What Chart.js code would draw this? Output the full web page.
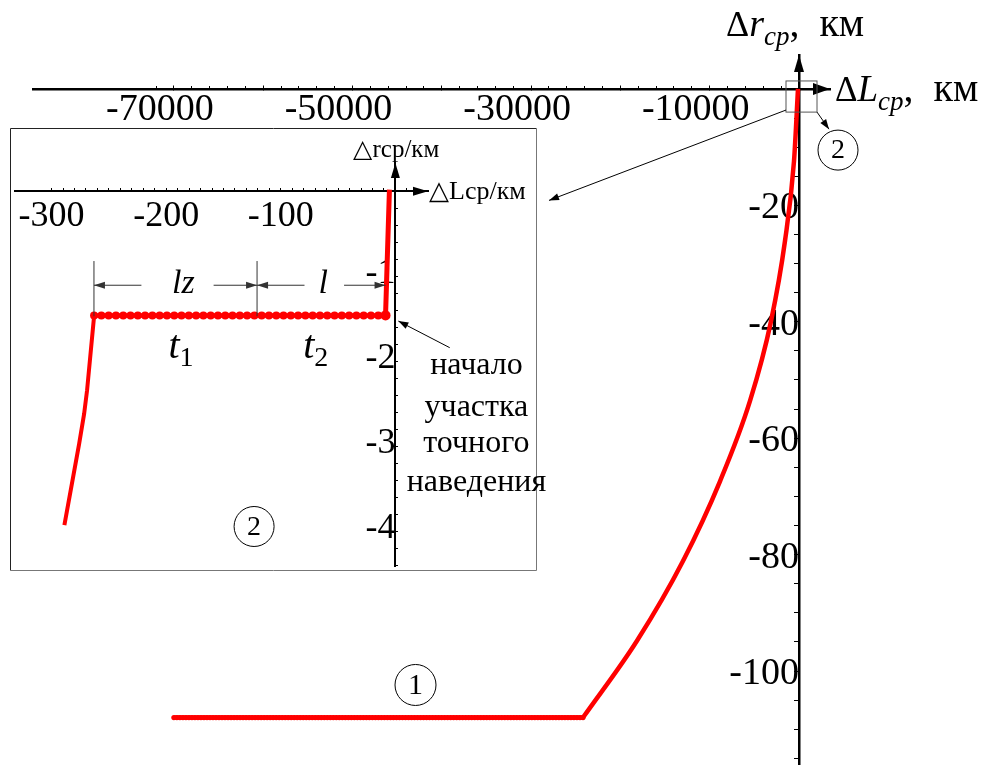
<!DOCTYPE html>
<html>
<head>
<meta charset="utf-8">
<script src="https://cdn.jsdelivr.net/npm/chart.js@4.4.1/dist/chart.umd.min.js"></script>
<style>
  html, body { margin: 0; padding: 0; background: #fff; }
  #wrap { position: relative; width: 988px; height: 765px; overflow: hidden; }
  #main { position: absolute; left: 0; top: 0; }
  #inset { position: absolute; left: 10px; top: 128px; }
</style>
</head>
<body>
<div id="wrap">
  <canvas id="main" width="988" height="765"></canvas>
  <canvas id="inset" width="560" height="443"></canvas>
</div>
<script>
// ---------------------------------------------------------------
// данные: полная траектория (км)
const flatL = [-70000, -24190];
const flatR = [-108, -108];
const climbL = [-24190, -18140, -12990, -8847, -5487, -3135, -1568, -560, -112];
const climbR = [-108, -94.8, -81.1, -67.4, -53.6, -39.9, -26.1, -12.4, 0];

// участок (2) крупно (км)
const approachL = [-288.8, -275.9, -271.6, -269, -262.9];
const approachR = [-3.93, -2.97, -2.62, -2.34, -1.47];
const holdL = [-262.9, -8.6];
const holdR = [-1.46, -1.46];
const finalL = [-8.6, -5.2];
const finalR = [-1.46, 0.02];

// подписи делений
const mainXLabels = [-70000, -50000, -30000, -10000];
const mainYLabels = [-20, -40, -60, -80, -100];
const zoomXLabels = [-300, -200, -100];
const zoomYLabels = [-1, -2, -3, -4];

// ---------------------------------------------------------------
const RED = '#ff0000';
const SERIF = "'Liberation Serif', 'Times New Roman', serif";

const pts = (xs, ys) => xs.map((x, i) => ({ x, y: ys[i] }));
const only = list => v => (list.includes(v) ? String(v) : '');
const noPad = s => { s.paddingLeft = s.paddingRight = s.paddingTop = s.paddingBottom = 0; };

// деления оси с постоянным шагом
function every(from, to, step) {
  return s => {
    const out = [];
    const n = Math.round((to - from) / step);
    for (let i = 0; i <= n; i++) out.push({ value: Math.round((from + i * step) * 1000) / 1000 });
    s.ticks = out;
  };
}

function head(ctx, x, y, ang, len, half) {
  ctx.save();
  ctx.translate(x, y);
  ctx.rotate(ang);
  ctx.beginPath();
  ctx.moveTo(0, 0);
  ctx.lineTo(-len, -half);
  ctx.lineTo(-len, half);
  ctx.closePath();
  ctx.fill();
  ctx.restore();
}

function arrow(ctx, x1, y1, x2, y2, len, half) {
  ctx.beginPath();
  ctx.moveTo(x1, y1);
  ctx.lineTo(x2, y2);
  ctx.stroke();
  head(ctx, x2, y2, Math.atan2(y2 - y1, x2 - x1), len, half);
}

function circled(ctx, x, y, r, txt, size) {
  ctx.beginPath();
  ctx.arc(x, y, r, 0, Math.PI * 2);
  ctx.stroke();
  ctx.font = size + 'px ' + SERIF;
  ctx.textAlign = 'center';
  ctx.textBaseline = 'middle';
  ctx.fillText(txt, x, y + 1);
}

// текст из кусков: [строка, шрифт, сдвиг по вертикали]
function rich(ctx, parts, x, y) {
  ctx.textAlign = 'left';
  ctx.textBaseline = 'alphabetic';
  for (const [s, font, dy] of parts) {
    ctx.font = font;
    ctx.fillText(s, x, y + (dy || 0));
    x += ctx.measureText(s).width;
  }
}

// "бусы" поверх отрезка - колебания на участке удержания
const beadLine = {
  id: 'beadLine',
  afterDatasetDraw(chart, args) {
    const ds = chart.data.datasets[args.index];
    if (!ds.beads) return;
    const p = args.meta.data;
    const ctx = chart.ctx;
    ctx.save();
    ctx.fillStyle = ds.borderColor;
    for (let i = 0; i < p.length - 1; i++) {
      const a = p[i], b = p[i + 1];
      const n = Math.round(Math.hypot(b.x - a.x, b.y - a.y) / ds.beads.step);
      for (let k = 0; k <= n; k++) {
        ctx.beginPath();
        ctx.arc(a.x + (b.x - a.x) * k / n, a.y + (b.y - a.y) * k / n, ds.beads.r, 0, Math.PI * 2);
        ctx.fill();
      }
    }
    ctx.restore();
  }
};

// ---------------------------------------------------------------
// основной график
const mainDecor = {
  id: 'mainDecor',
  afterDraw(chart) {
    const { ctx, chartArea: a, scales: { x, y } } = chart;
    const X = v => x.getPixelForValue(v), Y = v => y.getPixelForValue(v);
    const ox = X(0), oy = Y(0);
    ctx.save();
    ctx.fillStyle = '#000';
    ctx.strokeStyle = '#000';
    head(ctx, a.right, oy, 0, 17, 6);
    head(ctx, ox, a.top, -Math.PI / 2, 17, 5);

    // рамка вокруг участка 2
    ctx.lineWidth = 1;
    ctx.strokeStyle = '#555';
    ctx.strokeRect(X(-1456), Y(1.38), X(2016) - X(-1456), Y(-3.97) - Y(1.38));
    ctx.strokeStyle = '#000';
    arrow(ctx, X(-1456), Y(-3.62), X(-27996), Y(-19.14), 10, 3.5);
    arrow(ctx, X(2016), Y(-3.97), X(3360), Y(-6.9), 10, 3.5);
    circled(ctx, X(4367), Y(-10.5), 20, '2', 28);
    circled(ctx, X(-42945), Y(-102.4), 20.5, '1', 30);

    // названия осей
    rich(ctx, [['\u0394', '36px ' + SERIF], ['r', 'italic 38px ' + SERIF],
               ['cp', 'italic 27px ' + SERIF, 9], [',  км', '40px ' + SERIF]], ox - 73, 36);
    rich(ctx, [['\u0394', '35px ' + SERIF], ['L', 'italic 37px ' + SERIF],
               ['cp', 'italic 27px ' + SERIF, 9], [',  км', '40px ' + SERIF]], a.right + 5, 101);
    ctx.restore();
  }
};

new Chart(document.getElementById('main'), {
  type: 'scatter',
  data: {
    datasets: [
      { data: pts(flatL, flatR), showLine: true, borderColor: RED, borderWidth: 4.5, pointRadius: 0,
        beads: { r: 2.6, step: 3 } },
      { data: pts(climbL, climbR), showLine: true, borderColor: RED, borderWidth: 4.5, pointRadius: 0,
        cubicInterpolationMode: 'monotone' }
    ]
  },
  options: {
    responsive: false,
    animation: false,
    events: [],
    layout: { padding: { left: 33, right: 158, top: 55, bottom: 0 } },
    plugins: { legend: { display: false }, tooltip: { enabled: false } },
    scales: {
      x: {
        type: 'linear', min: -85778, max: 3471, position: { y: 0 }, afterFit: noPad,
        afterBuildTicks: every(-70000, 0, 10000),
        border: { color: '#000', width: 2.5 },
        grid: { drawOnChartArea: false, tickLength: -5, tickColor: '#000', tickWidth: 1 },
        ticks: { autoSkip: false, maxRotation: 0, padding: 3, labelOffset: -14, color: '#000',
                 font: { family: SERIF, size: 38 }, callback: only(mainXLabels) }
      },
      xMinor: {
        type: 'linear', axis: 'x', min: -85778, max: 3471, position: { y: 0 }, afterFit: noPad,
        afterBuildTicks: every(-72000, 0, 2000),
        border: { display: false },
        grid: { drawOnChartArea: false, tickLength: -3, tickColor: '#000', tickWidth: 1 },
        ticks: { autoSkip: false, maxRotation: 0, callback: () => '' }
      },
      y: {
        type: 'linear', min: -116.15, max: 5.84, position: { x: 0 }, afterFit: noPad,
        afterBuildTicks: every(-115, -5, 5),
        border: { color: '#000', width: 2.5 },
        grid: { drawOnChartArea: false, tickLength: 4, tickColor: '#000', tickWidth: 1 },
        ticks: { autoSkip: false, padding: 3, labelOffset: 3, color: '#000',
                 font: { family: SERIF, size: 38 }, callback: only(mainYLabels) }
      }
    }
  },
  plugins: [beadLine, mainDecor]
});

// ---------------------------------------------------------------
// врезка: участок 2
const BOX_W = 527;

const insetDecor = {
  id: 'insetDecor',
  beforeDraw(chart) {
    const ctx = chart.ctx;
    ctx.save();
    ctx.fillStyle = '#fff';
    ctx.fillRect(0, 0, BOX_W, chart.height);
    ctx.restore();
  },
  afterDraw(chart) {
    const { ctx, chartArea: a, scales: { x, y } } = chart;
    const X = v => x.getPixelForValue(v), Y = v => y.getPixelForValue(v);
    const ox = X(0), oy = Y(0);
    ctx.save();
    // рамка
    ctx.lineWidth = 1;
    ctx.strokeStyle = '#222';
    ctx.beginPath();
    ctx.moveTo(0.5, chart.height - 0.5);
    ctx.lineTo(0.5, 0.5);
    ctx.lineTo(BOX_W - 0.5, 0.5);
    ctx.stroke();
    ctx.strokeStyle = '#777';
    ctx.beginPath();
    ctx.moveTo(BOX_W - 0.5, 0.5);
    ctx.lineTo(BOX_W - 0.5, chart.height - 0.5);
    ctx.lineTo(0.5, chart.height - 0.5);
    ctx.stroke();

    ctx.fillStyle = '#000';
    ctx.strokeStyle = '#000';
    head(ctx, a.right, oy, 0, 15, 4.5);
    head(ctx, ox, a.top, -Math.PI / 2, 15, 4.5);

    ctx.textBaseline = 'middle';
    ctx.textAlign = 'center';
    ctx.font = '25px ' + SERIF;
    ctx.fillText('\u25B3rcp/км', ox + 1, a.top - 13);
    ctx.textAlign = 'left';
    ctx.font = '26px ' + SERIF;
    ctx.fillText('\u25B3Lcp/км', a.right + 1, oy + 1);

    // размерные линии lz и l
    ctx.strokeStyle = '#333';
    ctx.fillStyle = '#333';
    ctx.lineWidth = 1;
    for (const v of [-263, -120.7]) {
      ctx.beginPath();
      ctx.moveTo(X(v), Y(-0.82));
      ctx.lineTo(X(v), Y(-1.47));
      ctx.stroke();
    }
    const dy = Y(-1.105);
    arrow(ctx, X(-221.6), dy, X(-263), dy, 11, 3.5);
    arrow(ctx, X(-158.6), dy, X(-120.7), dy, 11, 3.5);
    arrow(ctx, X(-79.3), dy, X(-120.7), dy, 11, 3.5);
    arrow(ctx, X(-44.8), dy, X(-8.6), dy, 11, 3.5);

    ctx.fillStyle = '#000';
    ctx.textAlign = 'center';
    ctx.textBaseline = 'middle';
    ctx.font = 'italic 34px ' + SERIF;
    ctx.fillText('lz', X(-185), dy - 1);
    ctx.fillText('l', X(-63), dy - 1);

    const tb = Y(-1.957);
    rich(ctx, [['t', 'italic 40px ' + SERIF], ['1', '28px ' + SERIF, 8]], X(-198), tb);
    rich(ctx, [['t', 'italic 40px ' + SERIF], ['2', '28px ' + SERIF, 8]], X(-80.5), tb);

    // начало участка точного наведения
    ctx.strokeStyle = '#000';
    arrow(ctx, X(47.4), Y(-1.84), X(2.6), Y(-1.527), 10, 3.5);
    ctx.font = '32px ' + SERIF;
    ctx.textAlign = 'center';
    ctx.textBaseline = 'middle';
    const lines = ['начало', 'участка', 'точного', 'наведения'];
    const rows = [-2.05, -2.54, -2.97, -3.43];
    lines.forEach((s, i) => ctx.fillText(s, X(70.7), Y(rows[i])));

    circled(ctx, X(-123.3), Y(-3.945), 20, '2', 28);
    ctx.restore();
  }
};

new Chart(document.getElementById('inset'), {
  type: 'scatter',
  data: {
    datasets: [
      { data: pts(approachL, approachR), showLine: true, borderColor: RED, borderWidth: 4, pointRadius: 0 },
      { data: pts(holdL, holdR), showLine: true, borderColor: RED, borderWidth: 4.5,
        pointRadius: [0, 5], pointBackgroundColor: RED, pointBorderWidth: 0,
        beads: { r: 4, step: 7.3 } },
      { data: pts(finalL, finalR), showLine: true, borderColor: RED, borderWidth: 5, pointRadius: 0 }
    ]
  },
  options: {
    responsive: false,
    animation: false,
    events: [],
    layout: { padding: { left: 0, right: 142, top: 35, bottom: 0 } },
    plugins: { legend: { display: false }, tooltip: { enabled: false } },
    scales: {
      x: {
        type: 'linear', min: -331.9, max: 28.45, position: { y: 0 }, afterFit: noPad,
        afterBuildTicks: every(-300, 10, 10),
        border: { color: '#000', width: 2 },
        grid: { drawOnChartArea: false, tickLength: -4, tickColor: '#000', tickWidth: 1 },
        ticks: { autoSkip: false, maxRotation: 0, padding: 8, color: '#000',
                 font: { family: SERIF, size: 36 }, callback: only(zoomXLabels) }
      },
      y: {
        type: 'linear', min: -4.41, max: 0.334, position: { x: 0 }, afterFit: noPad,
        afterBuildTicks: every(-4.4, -0.2, 0.2),
        border: { color: '#000', width: 2 },
        grid: { drawOnChartArea: false, tickLength: -4, tickColor: '#000', tickWidth: 1 },
        ticks: { autoSkip: false, padding: 11, labelOffset: -3, color: '#000',
                 font: { family: SERIF, size: 36 }, callback: only(zoomYLabels) }
      }
    }
  },
  plugins: [beadLine, insetDecor]
});
</script>
</body>
</html>
